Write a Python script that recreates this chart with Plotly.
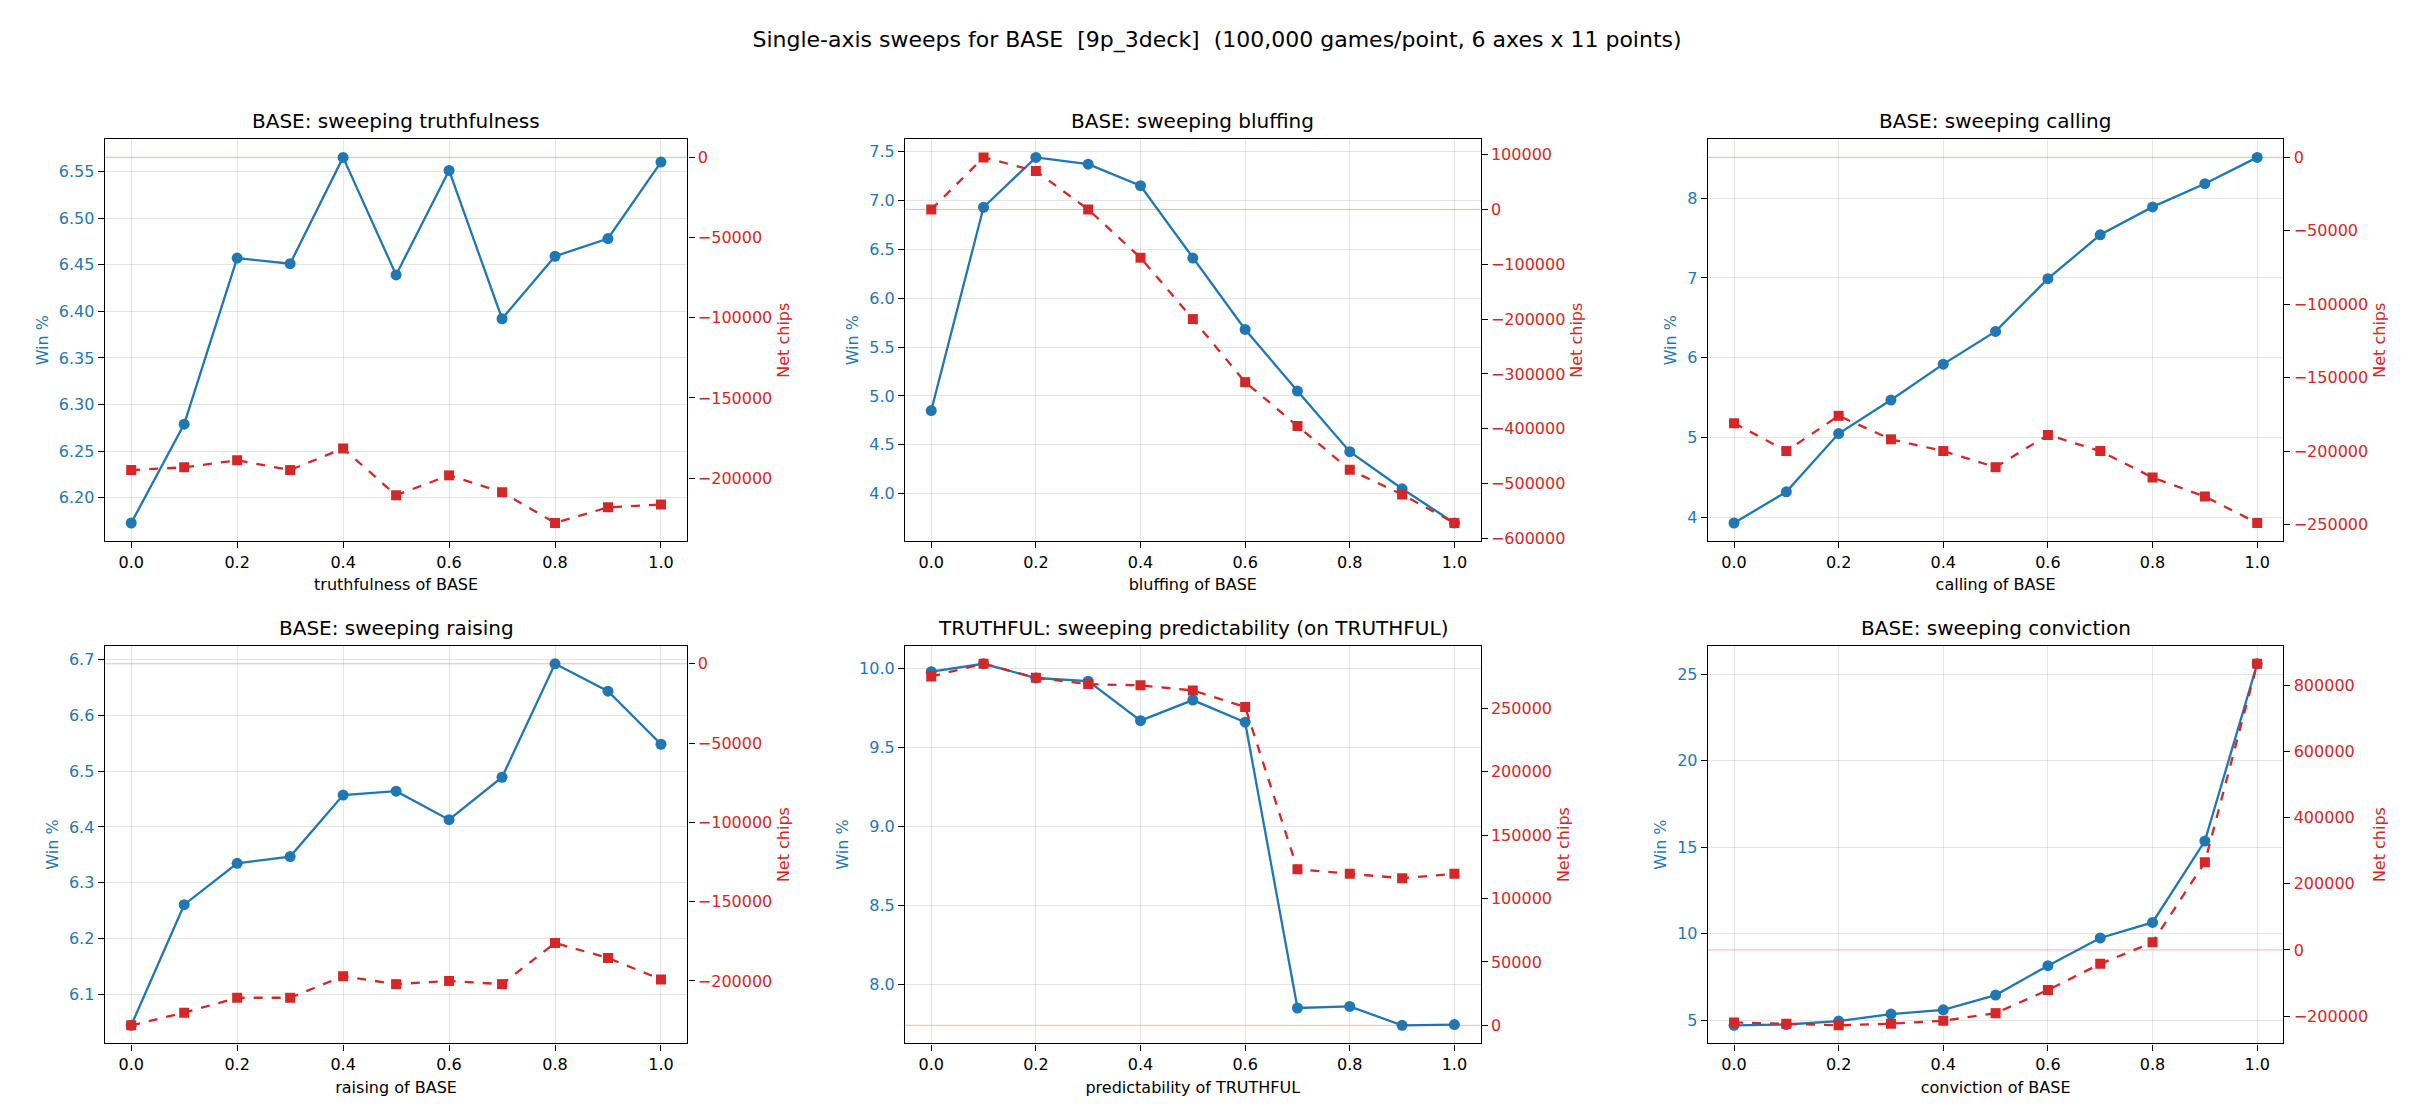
import plotly.graph_objects as go
from plotly.subplots import make_subplots

# x values shared by every sweep
x_vals = [0.0, 0.1, 0.2, 0.3, 0.4, 0.5, 0.6, 0.7, 0.8, 0.9, 1.0]

titles = [
    "BASE: sweeping truthfulness",
    "BASE: sweeping bluffing",
    "BASE: sweeping calling",
    "BASE: sweeping raising",
    "TRUTHFUL: sweeping predictability (on TRUTHFUL)",
    "BASE: sweeping conviction",
]
x_labels = [
    "truthfulness of BASE",
    "bluffing of BASE",
    "calling of BASE",
    "raising of BASE",
    "predictability of TRUTHFUL",
    "conviction of BASE",
]

win_truthfulness = [6.173, 6.279, 6.457, 6.451, 6.565, 6.439, 6.551, 6.392, 6.459, 6.478, 6.560]
chips_truthfulness = [-195000, -193300, -188900, -195000, -181500, -210700, -198300, -208800, -228000, -218200, -216500]

win_bluffing = [4.85, 6.93, 7.44, 7.37, 7.15, 6.41, 5.68, 5.05, 4.43, 4.05, 3.70]
chips_bluffing = [0, 95000, 70000, 0, -88000, -200000, -315000, -395000, -475000, -520000, -572000]

win_calling = [3.93, 4.32, 5.05, 5.47, 5.92, 6.33, 6.99, 7.54, 7.89, 8.18, 8.51]
chips_calling = [-181000, -200000, -176000, -192000, -200000, -211000, -189000, -200000, -218000, -231000, -249000]

win_raising = [6.045, 6.261, 6.335, 6.347, 6.457, 6.464, 6.413, 6.489, 6.692, 6.643, 6.548]
chips_raising = [-228000, -220000, -210600, -210600, -197000, -202000, -200000, -202000, -176000, -185500, -199000]

win_predict = [9.98, 10.03, 9.94, 9.92, 9.67, 9.80, 9.66, 7.85, 7.86, 7.74, 7.745]
chips_predict = [275000, 285000, 274000, 269000, 268000, 264000, 251000, 123000, 119500, 116000, 119500]

win_conviction = [4.70, 4.75, 4.95, 5.35, 5.60, 6.45, 8.15, 9.75, 10.65, 15.35, 25.6]
chips_conviction = [-219000, -223000, -228000, -223000, -214000, -191000, -121000, -42000, 23000, 265000, 865000]

win_series = [win_truthfulness, win_bluffing, win_calling, win_raising, win_predict, win_conviction]
chip_series = [chips_truthfulness, chips_bluffing, chips_calling, chips_raising, chips_predict, chips_conviction]

left_dtick = [0.05, 0.5, 1, 0.1, 0.5, 5]
left_fmt = [".2f", ".1f", "d", ".1f", ".1f", "d"]
right_dtick = [50000, 100000, 50000, 50000, 50000, 200000]

BLUE = "#1f77b4"
RED = "#d62728"
FONT = "DejaVu Sans"

x_domains = [[0.040, 0.281], [0.371, 0.609], [0.703, 0.941]]
y_domains = [[0.52, 0.882], [0.068, 0.426]]

fig = make_subplots(rows=2, cols=3, specs=[[{"secondary_y": True}] * 3] * 2)


def padded(vals):
    lo, hi = min(vals), max(vals)
    pad = (hi - lo) * 0.05
    return [lo - pad, hi + pad]


for i in range(6):
    r, c = i // 3 + 1, i % 3 + 1
    fig.add_trace(go.Scatter(x=x_vals, y=win_series[i], mode="lines+markers",
                             line=dict(color=BLUE, width=2.3),
                             marker=dict(symbol="circle", size=11, color=BLUE),
                             showlegend=False), row=r, col=c, secondary_y=False)
    fig.add_trace(go.Scatter(x=x_vals, y=chip_series[i], mode="lines+markers",
                             line=dict(color=RED, width=2.3, dash="dash"),
                             marker=dict(symbol="square", size=10, color=RED),
                             showlegend=False), row=r, col=c, secondary_y=True)
    fig.add_hline(y=0, row=r, col=c, secondary_y=True,
                  line=dict(color="rgba(214,39,40,0.35)", width=1))

    xd, yd = x_domains[c - 1], y_domains[r - 1]
    fig.update_xaxes(row=r, col=c, domain=xd, range=[-0.05, 1.05], dtick=0.2, tickformat=".1f",
                     showline=True, mirror=True, linecolor="black", linewidth=1.3,
                     ticks="outside", ticklen=6, tickcolor="black",
                     showgrid=True, gridcolor="rgba(0,0,0,0.1)", zeroline=False,
                     title=dict(text=x_labels[i], font=dict(size=16, color="black"), standoff=8),
                     tickfont=dict(size=16, color="black"))
    fig.update_yaxes(row=r, col=c, secondary_y=False, domain=yd,
                     range=padded(win_series[i]), dtick=left_dtick[i], tickformat=left_fmt[i],
                     showline=True, linecolor="black", linewidth=1.3,
                     ticks="outside", ticklen=6, tickcolor="black",
                     showgrid=True, gridcolor="rgba(0,0,0,0.1)", zeroline=False,
                     title=dict(text="Win %", font=dict(size=16, color=BLUE), standoff=6),
                     tickfont=dict(size=16, color=BLUE))
    fig.update_yaxes(row=r, col=c, secondary_y=True, domain=yd,
                     range=padded(chip_series[i] + [0]), dtick=right_dtick[i], tickformat="d",
                     showline=True, linecolor="black", linewidth=1.3,
                     ticks="outside", ticklen=6, tickcolor="black",
                     showgrid=False, zeroline=False,
                     title=dict(text="Net chips", font=dict(size=16, color=RED), standoff=6),
                     tickfont=dict(size=16, color=RED))
    fig.add_annotation(text=titles[i], xref="paper", yref="paper",
                       x=(xd[0] + xd[1]) / 2, y=yd[1], yshift=4,
                       xanchor="center", yanchor="bottom", showarrow=False,
                       font=dict(size=20, color="black"))

fig.update_layout(
    width=2418, height=1118,
    margin=dict(l=0, r=0, t=0, b=0),
    paper_bgcolor="white", plot_bgcolor="white",
    font=dict(family=FONT, color="black"),
    title=dict(text="Single-axis sweeps for BASE  [9p_3deck]  (100,000 games/point, 6 axes x 11 points)",
               x=0.5, xanchor="center", y=0.972, yanchor="middle",
               font=dict(size=22, color="black")),
)

fig.write_html("out.html")
